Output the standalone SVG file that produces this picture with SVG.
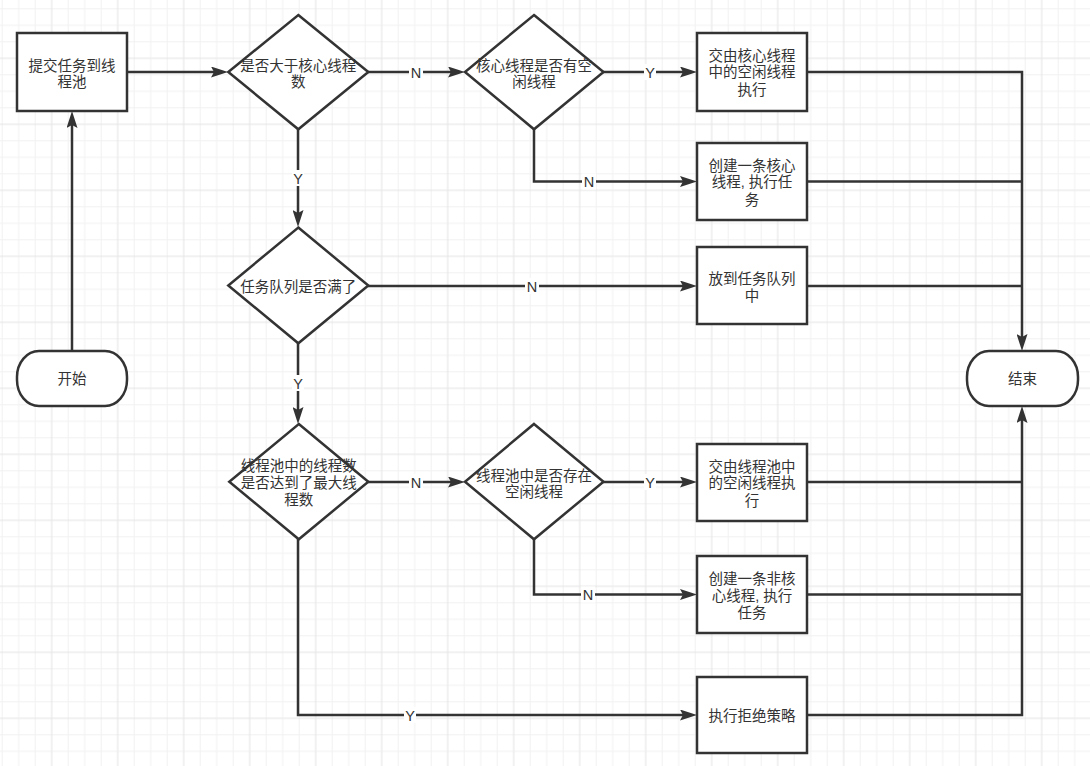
<svg xmlns="http://www.w3.org/2000/svg" width="1090" height="766" viewBox="0 0 1090 766">
<style>
.shape{fill:#ffffff;stroke:#333333;stroke-width:2.5}
.edge{fill:none;stroke:#333333;stroke-width:2.5}
.t{font-family:"Liberation Sans","Noto Sans CJK SC",sans-serif;font-size:14.5px;fill:#333333;text-anchor:middle}
.lbl{font-family:"Liberation Sans","Noto Sans CJK SC",sans-serif;font-size:14.5px;fill:#333333;text-anchor:middle}
.lb{fill:#ffffff}
</style>
<defs>
<pattern id="grid" patternUnits="userSpaceOnUse" x="1.7" y="8.3" width="66" height="66">
<rect x="0" y="0" width="1" height="66" fill="#f1f1f1"/>
<rect x="16.5" y="0" width="1" height="66" fill="#f1f1f1"/>
<rect x="33" y="0" width="1" height="66" fill="#f1f1f1"/>
<rect x="0" y="0" width="66" height="1" fill="#f1f1f1"/>
<rect x="0" y="16.5" width="66" height="1" fill="#f1f1f1"/>
<rect x="0" y="33" width="66" height="1" fill="#f1f1f1"/>
<rect x="49.5" y="0" width="1" height="66" fill="#e4e4e4"/>
<rect x="0" y="49.5" width="66" height="1" fill="#e4e4e4"/>
</pattern>
<marker id="arr" viewBox="0 0 17 11" refX="9" refY="5.5" markerWidth="17" markerHeight="11" markerUnits="userSpaceOnUse" orient="auto">
<path d="M0,0 L17,5.5 L0,11 L3,5.5 Z" fill="#333333"/>
</marker>
</defs>
<rect x="0" y="0" width="1090" height="766" fill="#ffffff"/>
<rect x="0" y="0" width="1090" height="766" fill="url(#grid)"/>

<g id="connectors">
<path class="edge" d="M127,72 L220,72" marker-end="url(#arr)"/>
<path class="edge" d="M368,72 L457,72" marker-end="url(#arr)"/>
<path class="edge" d="M603,72 L689,72" marker-end="url(#arr)"/>
<path class="edge" d="M534,129 L534,181.5 L689,181.5" marker-end="url(#arr)"/>
<path class="edge" d="M298,129 L298,219" marker-end="url(#arr)"/>
<path class="edge" d="M368,286 L689,286" marker-end="url(#arr)"/>
<path class="edge" d="M298,343 L298,416" marker-end="url(#arr)"/>
<path class="edge" d="M368,482 L457,482" marker-end="url(#arr)"/>
<path class="edge" d="M603,482 L689,482" marker-end="url(#arr)"/>
<path class="edge" d="M534,539 L534,594.5 L689,594.5" marker-end="url(#arr)"/>
<path class="edge" d="M298,539 L298,715 L689,715" marker-end="url(#arr)"/>
<path class="edge" d="M72,351 L72,119" marker-end="url(#arr)"/>
<path class="edge" d="M807,72 L1022,72 L1022,343" marker-end="url(#arr)"/>
<path class="edge" d="M807,715 L1022,715 L1022,414" marker-end="url(#arr)"/>
<path class="edge" d="M807,181.5 L1022,181.5"/>
<path class="edge" d="M807,286 L1022,286"/>
<path class="edge" d="M807,482 L1022,482"/>
<path class="edge" d="M807,594.5 L1022,594.5"/>
<rect class="lb" x="409" y="64" width="14" height="16"/>
<text class="lbl" x="416" y="77.5">N</text>
<rect class="lb" x="644" y="64" width="12" height="16"/>
<text class="lbl" x="650" y="77.5">Y</text>
<rect class="lb" x="582" y="173.5" width="14" height="16"/>
<text class="lbl" x="589" y="187">N</text>
<rect class="lb" x="292" y="170" width="12" height="16"/>
<text class="lbl" x="298" y="183.5">Y</text>
<rect class="lb" x="525" y="278" width="14" height="16"/>
<text class="lbl" x="532" y="291.5">N</text>
<rect class="lb" x="292" y="375" width="12" height="16"/>
<text class="lbl" x="298" y="388.5">Y</text>
<rect class="lb" x="409" y="474" width="14" height="16"/>
<text class="lbl" x="416" y="487.5">N</text>
<rect class="lb" x="644" y="474" width="12" height="16"/>
<text class="lbl" x="650" y="487.5">Y</text>
<rect class="lb" x="581" y="586.5" width="14" height="16"/>
<text class="lbl" x="588" y="600">N</text>
<rect class="lb" x="404" y="707" width="12" height="16"/>
<text class="lbl" x="410" y="720.5">Y</text>
</g>

<g id="start">
<rect class="shape" x="17" y="351" width="110" height="55" rx="22" ry="26"/>
<text class="t" x="72" y="384">开始</text>
</g>
<g id="submit">
<rect class="shape" x="17" y="33" width="110" height="78"/>
<text class="t" x="72" y="70.5">提交任务到线</text>
<text class="t" x="72" y="87.2">程池</text>
</g>
<g id="d-core">
<polygon class="shape" points="298.3,15 368.3,72 298.3,129.3 228.3,72"/>
<text class="t" x="298.3" y="70.5">是否大于核心线程</text>
<text class="t" x="298.3" y="87.2">数</text>
</g>
<g id="d-idle-core">
<polygon class="shape" points="534,15 603.5,72 534,129.3 465,72"/>
<text class="t" x="534" y="70.5">核心线程是否有空</text>
<text class="t" x="534" y="87.2">闲线程</text>
</g>
<g id="b-core-idle">
<rect class="shape" x="697" y="33" width="110" height="78"/>
<text class="t" x="752" y="60.5">交由核心线程</text>
<text class="t" x="752" y="77.2">中的空闲线程</text>
<text class="t" x="752" y="94.5">执行</text>
</g>
<g id="b-new-core">
<rect class="shape" x="697" y="143" width="110" height="77"/>
<text class="t" x="752" y="170.5">创建一条核心</text>
<text class="t" x="752" y="187.2">线程, 执行任</text>
<text class="t" x="752" y="204.5">务</text>
</g>
<g id="d-queue">
<polygon class="shape" points="298.3,227.5 368.3,285.5 298.3,343.3 228.3,285.5"/>
<text class="t" x="298.3" y="292">任务队列是否满了</text>
</g>
<g id="b-queue">
<rect class="shape" x="697" y="247" width="110" height="77"/>
<text class="t" x="752" y="283.8">放到任务队列</text>
<text class="t" x="752" y="300.5">中</text>
</g>
<g id="d-max">
<polygon class="shape" points="298.8,424 368.3,481.7 298.8,539.3 229.3,481.7"/>
<text class="t" x="298.8" y="470.5">线程池中的线程数</text>
<text class="t" x="298.8" y="488.2">是否达到了最大线</text>
<text class="t" x="298.8" y="504.8">程数</text>
</g>
<g id="d-idle-pool">
<polygon class="shape" points="534,424 603.5,481.7 534,539.3 465,481.7"/>
<text class="t" x="534" y="480.5">线程池中是否存在</text>
<text class="t" x="534" y="497.2">空闲线程</text>
</g>
<g id="b-pool-idle">
<rect class="shape" x="697" y="444" width="110" height="77"/>
<text class="t" x="752" y="471.5">交由线程池中</text>
<text class="t" x="752" y="488.2">的空闲线程执</text>
<text class="t" x="752" y="505.5">行</text>
</g>
<g id="b-new-noncore">
<rect class="shape" x="697" y="556" width="110" height="77"/>
<text class="t" x="752" y="583.8">创建一条非核</text>
<text class="t" x="752" y="600.5">心线程, 执行</text>
<text class="t" x="752" y="617.8">任务</text>
</g>
<g id="b-reject">
<rect class="shape" x="697" y="677" width="110" height="76"/>
<text class="t" x="752" y="720.5">执行拒绝策略</text>
</g>
<g id="end">
<rect class="shape" x="967" y="351" width="111" height="55" rx="22" ry="26"/>
<text class="t" x="1022.5" y="384">结束</text>
</g>
</svg>
